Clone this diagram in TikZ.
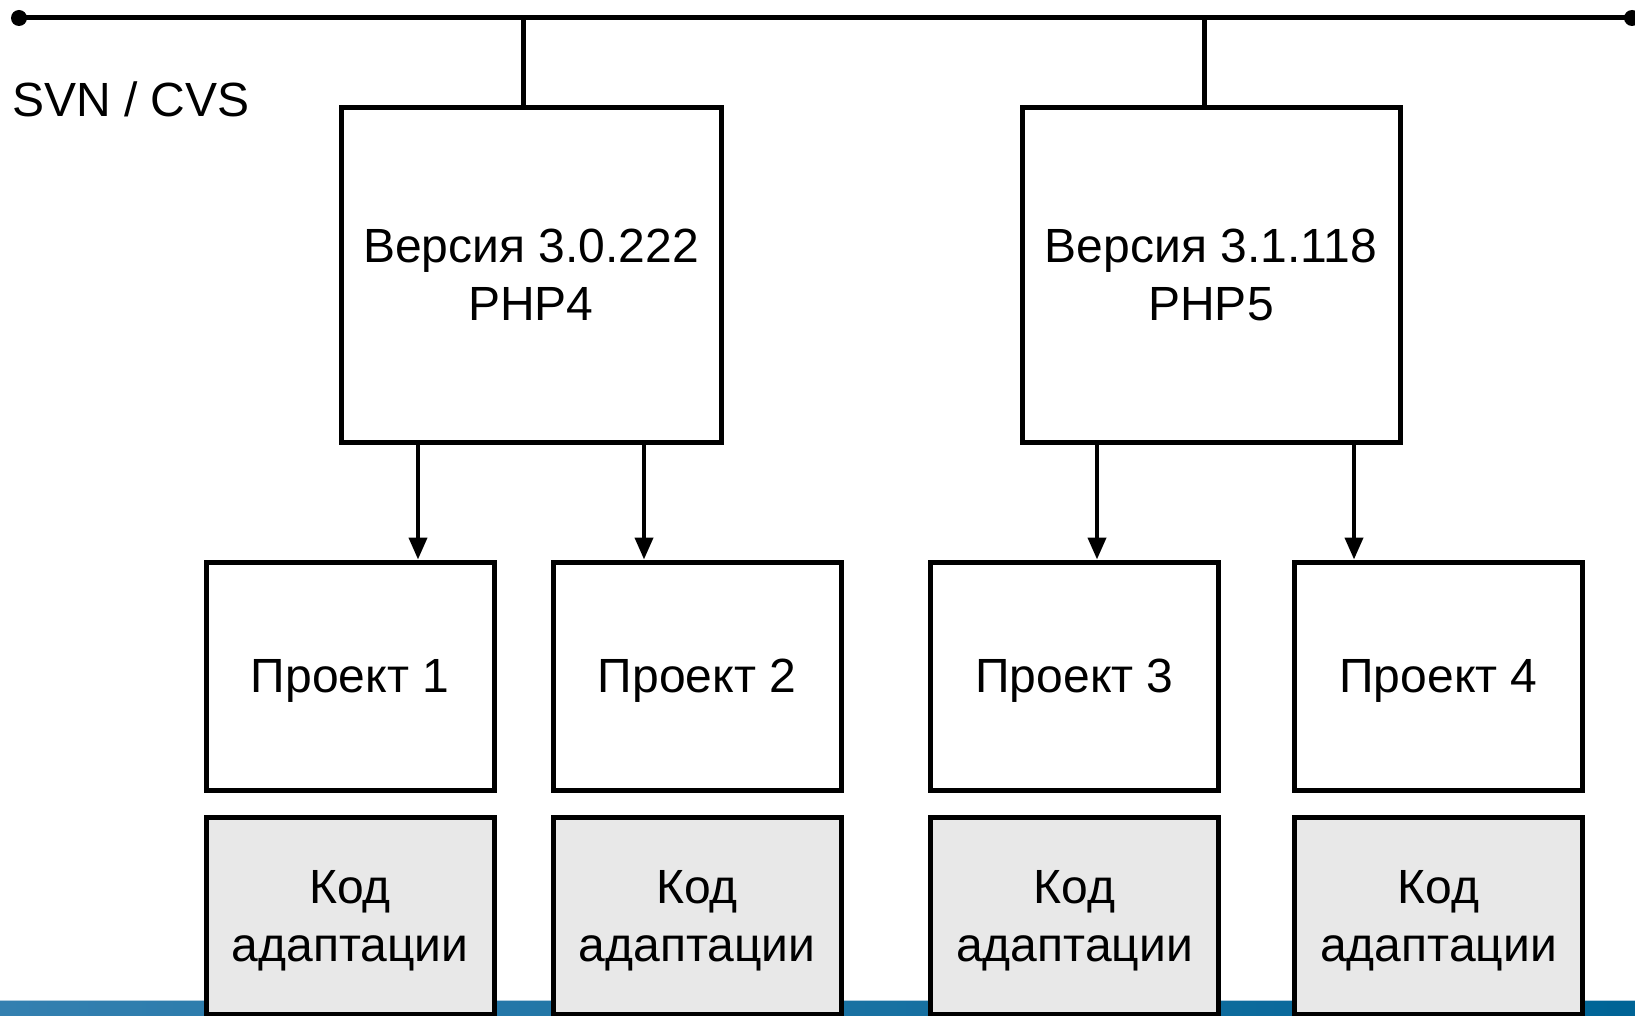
\documentclass[tikz,border=0pt]{standalone}
\usepackage{fontspec}
\setmainfont{Liberation Sans}
\usetikzlibrary{arrows.meta}
\definecolor{barL}{RGB}{52,128,176}
\definecolor{barR}{RGB}{0,100,150}
\definecolor{codefill}{RGB}{232,232,232}
\tikzset{
  box/.style={draw=black, line width=5pt, fill=white, align=center, inner sep=0pt,
    text depth=-8pt, font=\fontsize{48}{58}\selectfont},
  verbox/.style={box, minimum height=334pt},
  projbox/.style={box, minimum width=288pt, minimum height=228pt},
  codebox/.style={box, fill=codefill, minimum width=288pt, minimum height=197pt},
  link/.style={line width=5pt},
  arr/.style={line width=4pt, -{Triangle[width=18pt,length=22pt]}},
}
\begin{document}
\begin{tikzpicture}[x=1pt,y=-1pt]
\useasboundingbox (0,0) rectangle (1635,1016);
% blue bar
\shade[left color=barL, right color=barR] (0,1000) rectangle (1635,1016);
\draw[color=barL!40!white, line width=1.5pt] (0,1000.5) -- (1635,1000.5);
% top bus
\coordinate (busL) at (19,18);
\coordinate (busR) at (1632,18);
\draw[link] (busL) -- (busR);
\fill (busL) circle (8);
\fill (busR) circle (8);
\node[anchor=base west, inner sep=0pt, font=\fontsize{48}{58}\selectfont] (svn) at (12,117) {SVN / CVS};
% version boxes
\node[verbox, minimum width=380pt] (v1) at (531,275) {Версия 3.0.222\\PHP4};
\node[verbox, minimum width=378pt] (v2) at (1211,275) {Версия 3.1.118\\PHP5};
\coordinate (t1) at (523,18);
\coordinate (t2) at (1204,18);
\draw[link] (t1) -- (t1 |- v1.north);
\draw[link] (t2) -- (t2 |- v2.north);
% project boxes
\node[projbox] (p1) at (350,676) {Проект 1};
\node[projbox] (p2) at (697,676) {Проект 2};
\node[projbox] (p3) at (1074.5,676) {Проект 3};
\node[projbox] (p4) at (1438.5,676) {Проект 4};
% code boxes
\node[codebox] (c1) at (350,916) {Код\\адаптации};
\node[codebox] (c2) at (697,916) {Код\\адаптации};
\node[codebox] (c3) at (1074.5,916) {Код\\адаптации};
\node[codebox] (c4) at (1438.5,916) {Код\\адаптации};
% arrows
\coordinate (a1) at (418,0);
\coordinate (a2) at (644,0);
\coordinate (a3) at (1097,0);
\coordinate (a4) at (1354,0);
\draw[arr] (v1.south -| a1) -- (p1.north -| a1);
\draw[arr] (v1.south -| a2) -- (p2.north -| a2);
\draw[arr] (v2.south -| a3) -- (p3.north -| a3);
\draw[arr] (v2.south -| a4) -- (p4.north -| a4);
\end{tikzpicture}
\end{document}
